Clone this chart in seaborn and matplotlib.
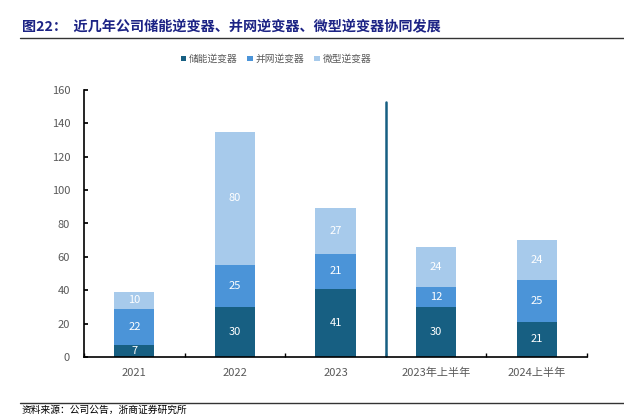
import numpy as np
import pandas as pd
import seaborn as sns
import matplotlib
matplotlib.use("Agg")
import matplotlib.pyplot as plt
from matplotlib.patches import Patch
from matplotlib.lines import Line2D

# ---------------------------------- datos ---------------------------------- #
categorias = ["2021", "2022", "2023", "2023年上半年", "2024上半年"]
storage = [7, 30, 41, 30, 21]     # 储能逆变器
grid = [22, 25, 21, 12, 25]       # 并网逆变器
micro = [10, 80, 27, 24, 24]      # 微型逆变器
series_names = ["储能逆变器", "并网逆变器", "微型逆变器"]
y_ticks = [0, 20, 40, 60, 80, 100, 120, 140, 160]
divider_top = 153

colors = ["#175f82", "#4b94d8", "#a7caeb"]
tick_color = "#595959"

sns.set_theme(style="white")
plt.rcParams["font.family"] = ["Noto Sans CJK SC", "DejaVu Sans"]

df = pd.DataFrame({"cat": categorias, "s": storage, "g": grid, "m": micro})
df["sg"] = df["s"] + df["g"]
df["total"] = df["sg"] + df["m"]

fig = plt.figure(figsize=(6.24, 4.15), dpi=100)
ax = fig.add_axes([84 / 624, 1 - 357 / 415, 503 / 624, 267 / 415])

# barras apiladas: dibujo acumulados de mayor a menor
for col, c in zip(["total", "sg", "s"], colors[::-1]):
    sns.barplot(data=df, x="cat", y=col, color=c, width=0.4, saturation=1,
                edgecolor="none", linewidth=0, ax=ax)

# etiquetas de valores
for i in range(len(categorias)):
    bottoms = [0, storage[i], storage[i] + grid[i]]
    for b, v in zip(bottoms, [storage[i], grid[i], micro[i]]):
        ax.text(i, b + v / 2, str(v), ha="center", va="center",
                color="white", fontsize=8)

# linea divisoria entre anual y semestral
ax.plot([2.5, 2.5], [0, divider_top], color="#175f82", linewidth=1.8)

ax.set_xlim(-0.5, len(categorias) - 0.5)
ax.set_ylim(0, 160)
ax.set_yticks(y_ticks)
ax.set_xlabel("")
ax.set_ylabel("")
for s in ["top", "right"]:
    ax.spines[s].set_visible(False)
for s in ["left", "bottom"]:
    ax.spines[s].set_color("black")
    ax.spines[s].set_linewidth(1.2)
ax.tick_params(axis="y", direction="in", length=3, color="black",
               labelsize=8, labelcolor=tick_color, pad=10, left=True)
ax.tick_params(axis="x", which="major", length=0, labelsize=8,
               labelcolor=tick_color, pad=8)
ax.set_xticks(np.arange(-0.5, len(categorias), 1.0), minor=True)
ax.tick_params(axis="x", which="minor", direction="in", length=3,
               color="black", bottom=True)

# leyenda
handles = [Patch(facecolor=c, edgecolor="none") for c in colors]
fig.legend(handles, series_names, loc="center", bbox_to_anchor=(276 / 624, 1 - 59 / 415),
           ncol=3, frameon=False, fontsize=7, handlelength=0.55, handleheight=0.55,
           handletextpad=0.3, columnspacing=1.0, labelcolor=tick_color)

# titulo y lineas
fig.text(22 / 624, 1 - 27 / 415, "图22：  近几年公司储能逆变器、并网逆变器、微型逆变器协同发展",
         fontsize=10.2, fontweight="bold", color="#1c2385", va="center", ha="left")
fig.add_artist(Line2D([20 / 624, 1], [1 - 38 / 415] * 2, color="#333333", linewidth=1))
fig.add_artist(Line2D([20 / 624, 1], [1 - 403 / 415] * 2, color="#333333", linewidth=1))
fig.text(22 / 624, 1 - 414.5 / 415, "资料来源：公司公告，浙商证券研究所", fontsize=7,
         color="black", va="bottom", ha="left")

fig.savefig("out.png", dpi=100)
